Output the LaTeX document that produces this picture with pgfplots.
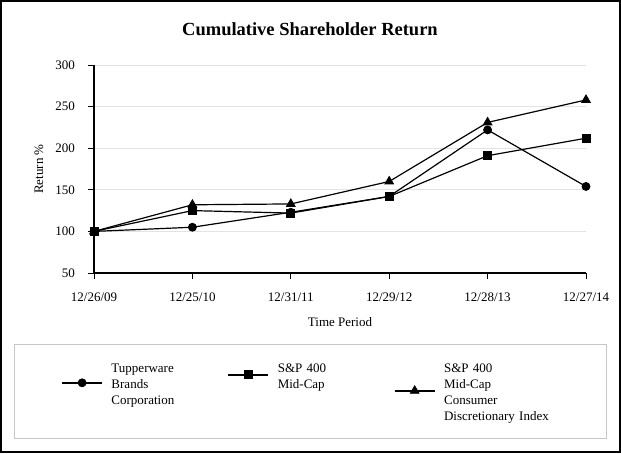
\documentclass[border=0pt]{standalone}
\usepackage{fontspec}
\setmainfont{Liberation Serif}
\usepackage{pgfplots}
\pgfplotsset{compat=1.18}

\newcommand{\chartfont}{\fontsize{13}{16}\selectfont}

\begin{document}
\begin{tikzpicture}[x=1pt,y=1pt]
\path[use as bounding box] (0,0) rectangle (621,453);
\draw[line width=2pt] (1,1) rectangle (620,452);
\node[font=\fontsize{18.5}{22}\selectfont\bfseries] at (310,424) {Cumulative Shareholder Return};
% legend frame
\draw[gray!45, line width=0.9pt] (14,109) rectangle (606,15);

\begin{axis}[
    at={(94pt,180pt)}, anchor=south west,
    scale only axis, width=492pt, height=208pt,
    /pgf/number format/assume math mode=true,
    tick label style={font=\chartfont},
    label style={font=\chartfont},
    xticklabel style={yshift=-10pt},
    yticklabel style={xshift=-9.5pt},
    axis lines*=left,
    axis line style={line width=1.6pt},
    tick align=outside,
    major tick length=6pt,
    tick style={black, line width=0.8pt},
    xmin=0, xmax=5, ymin=50, ymax=300,
    xtick={0,1,2,3,4,5},
    xticklabels={12/26/09,12/25/10,12/31/11,12/29/12,12/28/13,12/27/14},
    ytick={50,100,150,200,250,300},
    ymajorgrids, grid style={gray!22, line width=0.8pt},
    xlabel={Time Period}, ylabel={Return \%},
    every axis x label/.style={at={(axis description cs:0.5,0)}, yshift=-49pt, anchor=center, font=\chartfont},
    every axis y label/.style={at={(axis description cs:0,0.5)}, xshift=-55pt, rotate=90, anchor=center, font=\chartfont},
    legend image code/.code={
        \draw[mark repeat=2, mark phase=2, #1] plot coordinates {(0pt,0pt) (20pt,0pt) (40pt,0pt)};
    },
    legend style={
        draw=none, fill=none, inner sep=0pt,
        at={(0,0)}, anchor=north west, xshift=-33pt, yshift=-88.3pt,
        column sep=8.5pt,
        cells={anchor=west},
        nodes={inner sep=0pt, text depth=0pt},
        font=\chartfont,
    },
    legend columns=3,
]

% S&P 400 Mid-Cap Consumer Discretionary Index
\addplot[black, line width=1.2pt, mark=triangle*, mark size=5pt, mark options={line width=0.8pt}, forget plot] coordinates {
    (0,100) (1,132) (2,133) (3,160) (4,231) (5,258)
};
% Tupperware Brands Corporation
\addplot[black, line width=1.2pt, mark=*, mark size=4pt, mark options={line width=0.8pt}, forget plot] coordinates {
    (0,100) (1,105) (2,123) (3,142) (4,222) (5,154)
};
% S&P 400 Mid-Cap
\addplot[black, line width=1.2pt, mark=square*, mark size=4pt, mark options={line width=0.8pt}, forget plot] coordinates {
    (0,100) (1,125) (2,122) (3,142) (4,191) (5,212)
};

\addlegendimage{black, line width=1.8pt, mark=*, mark size=4pt, mark options={line width=0.8pt}, legend image post style={yshift=-15.7pt}}
\addlegendentry[text width=107.5pt, align=left, font=\chartfont]{\strut Tupperware\\Brands\\Corporation\\\strut}
\addlegendimage{black, line width=1.8pt, mark=square*, mark size=4pt, mark options={line width=0.8pt}, legend image post style={yshift=-7.7pt}}
\addlegendentry[text width=107.5pt, align=left, font=\chartfont]{\strut S\&P 400\\Mid-Cap\\\strut\\\strut}
\addlegendimage{black, line width=1.8pt, mark=triangle*, mark size=5pt, mark options={line width=0.8pt}, legend image post style={yshift=-23.7pt}}
\addlegendentry[text width=107.5pt, align=left, font=\chartfont]{\strut S\&P 400\\Mid-Cap\\Consumer\\Discretionary Index\strut}

\end{axis}
\end{tikzpicture}
\end{document}
